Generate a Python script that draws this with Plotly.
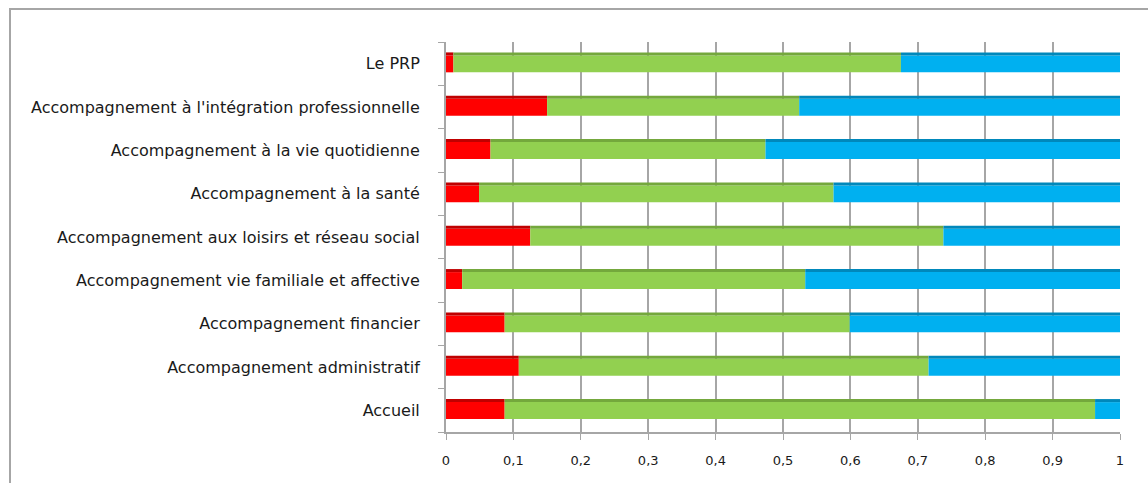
import plotly.graph_objects as go
import numpy as np

categories = [
    "Accueil",
    "Accompagnement administratif",
    "Accompagnement financier",
    "Accompagnement vie familiale et affective",
    "Accompagnement aux loisirs et réseau social",
    "Accompagnement à la santé",
    "Accompagnement à la vie quotidienne",
    "Accompagnement à l'intégration professionnelle",
    "Le PRP",
]
red_vals = [0.087, 0.108, 0.087, 0.024, 0.125, 0.049, 0.066, 0.150, 0.011]
green_vals = [0.876, 0.608, 0.512, 0.509, 0.613, 0.526, 0.408, 0.374, 0.664]
blue_vals = [0.037, 0.284, 0.401, 0.467, 0.262, 0.425, 0.526, 0.476, 0.325]

tick_vals = [0, 0.1, 0.2, 0.3, 0.4, 0.5, 0.6, 0.7, 0.8, 0.9, 1]
tick_text = ["0", "0,1", "0,2", "0,3", "0,4", "0,5", "0,6", "0,7", "0,8", "0,9", "1"]

series = [
    ("Rouge", red_vals, "#FF0000", "#C00000"),
    ("Vert", green_vals, "#92D050", "#74A83C"),
    ("Bleu", blue_vals, "#00B0F0", "#0088BB"),
]

fig = go.Figure()
base = np.zeros(len(categories))
FRONT_W = 0.39
TOP_W = 0.07
for name, vals, col, dark in series:
    v = np.array(vals)
    fig.add_trace(go.Bar(
        y=categories, x=v, base=base.copy(), orientation="h", name=name,
        width=FRONT_W, offset=-0.2, marker=dict(color=col, line=dict(width=0)),
        showlegend=False,
    ))
    fig.add_trace(go.Bar(
        y=categories, x=v, base=base.copy(), orientation="h", name=name,
        width=TOP_W, offset=-0.2 + FRONT_W, marker=dict(color=dark, line=dict(width=0)),
        showlegend=False, hoverinfo="skip",
    ))
    base = base + v

L, R, T, B = 446, 28, 42, 51
PW = 1148 - L - R
PH = 483 - T - B

fig.update_layout(
    width=1148, height=483,
    barmode="overlay",
    margin=dict(l=L, r=R, t=T, b=B, pad=0),
    paper_bgcolor="white", plot_bgcolor="white",
    font=dict(family="DejaVu Sans", size=16, color="#1a1a1a"),
    showlegend=False,
    xaxis=dict(
        range=[0, 1.0], tickvals=tick_vals, ticktext=tick_text,
        showgrid=True, gridcolor="#A6A6A6", gridwidth=2,
        zeroline=False, showline=True, linecolor="#A6A6A6", linewidth=2,
        ticks="outside", ticklen=6, tickcolor="#A6A6A6", tickwidth=1,
        tickfont=dict(size=13), ticklabelstandoff=9,
    ),
    yaxis=dict(
        type="category", categoryorder="array", categoryarray=categories,
        range=[-0.5, 8.5], showgrid=False, zeroline=False,
        showline=True, linecolor="#A6A6A6", linewidth=2,
        ticks="outside", tickson="boundaries", ticklen=6, tickcolor="#A6A6A6",
        ticklabelstandoff=21,
    ),
    shapes=[dict(
        type="rect", xref="paper", yref="paper",
        x0=(10 - L) / PW, x1=(1170 - L) / PW,
        y0=(483 - B - 520) / PH, y1=(483 - B - 9) / PH,
        line=dict(color="#A6A6A6", width=2), fillcolor="rgba(0,0,0,0)",
        layer="below",
    )],
)

fig.write_html("out.html")
